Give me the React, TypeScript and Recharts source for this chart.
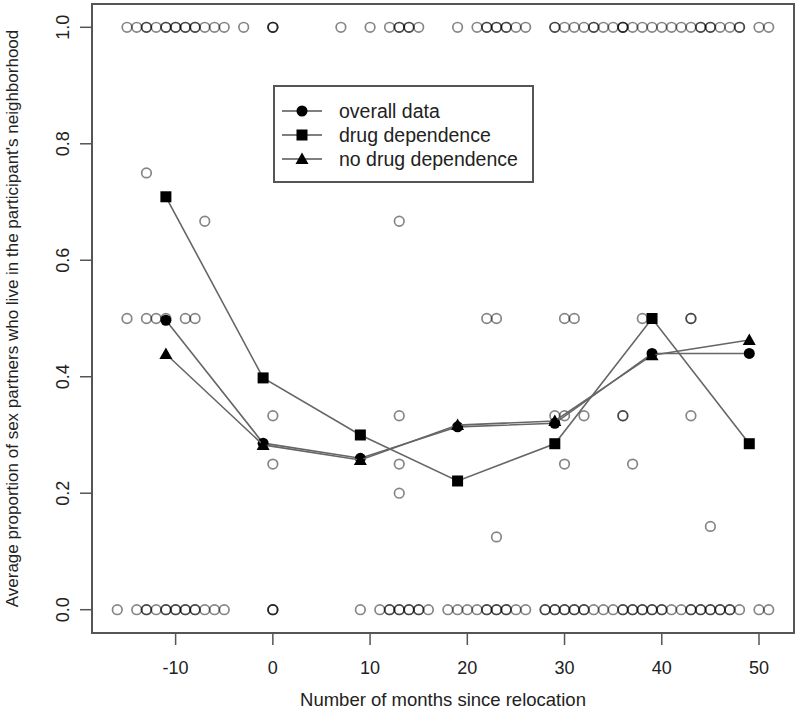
import {
  Legend,
  ReferenceArea,
  Scatter,
  ScatterChart,
  XAxis,
  YAxis,
} from "recharts";

// months where group means were computed
const months = [-11, -1, 9, 19, 29, 39, 49];
const overall = [0.497, 0.286, 0.26, 0.314, 0.32, 0.44, 0.44];
const drugDep = [0.709, 0.398, 0.3, 0.221, 0.285, 0.5, 0.285];
const noDrugDep = [0.439, 0.283, 0.257, 0.317, 0.324, 0.437, 0.463];

// individual observations at 1.0 (month, count)
const onesX = [-15, -14, -13, -12, -11, -10, -9, -8, -7, -6, -5, -3, 0, 7, 10, 12, 13, 14, 15, 19, 21, 22, 23, 24, 25, 26, 29, 30, 31, 32, 33, 34, 35, 36, 37, 38, 39, 40, 41, 42, 43, 44, 45, 46, 47, 48, 50, 51];
const onesN = [1, 1, 2, 1, 2, 2, 2, 2, 1, 1, 1, 1, 3, 1, 1, 1, 2, 2, 1, 1, 1, 2, 2, 2, 1, 1, 2, 1, 1, 1, 2, 1, 1, 3, 1, 1, 1, 1, 1, 1, 1, 2, 2, 1, 1, 2, 1, 1];

// individual observations at 0.0 (month, count)
const zerosX = [-16, -14, -13, -12, -11, -10, -9, -8, -7, -6, -5, 0, 9, 11, 12, 13, 14, 15, 16, 18, 19, 20, 21, 22, 23, 24, 25, 26, 28, 29, 30, 31, 32, 33, 34, 35, 36, 37, 38, 39, 40, 41, 42, 43, 44, 45, 46, 47, 48, 50, 51];
const zerosN = [1, 1, 2, 1, 2, 2, 2, 2, 1, 1, 1, 3, 1, 1, 2, 2, 2, 2, 1, 1, 1, 1, 1, 2, 2, 2, 1, 1, 2, 2, 2, 2, 2, 1, 1, 1, 2, 2, 2, 2, 2, 1, 1, 2, 2, 2, 2, 2, 1, 1, 1];

// other individual observations
const partX = [-13, -7, 13, -15, -13, -12, -11, -9, -8, 22, 23, 30, 31, 38, 43, 43, 0, 13, 29, 30, 32, 36, 36, 43, 0, 13, 30, 37, 13, 23, 45];
const partY = [0.75, 0.667, 0.667, 0.5, 0.5, 0.5, 0.5, 0.5, 0.5, 0.5, 0.5, 0.5, 0.5, 0.5, 0.5, 0.5, 0.333, 0.333, 0.333, 0.333, 0.333, 0.333, 0.333, 0.333, 0.25, 0.25, 0.25, 0.25, 0.2, 0.125, 0.143];

const yTicks = [0, 0.2, 0.4, 0.6, 0.8, 1.0];
const xTicks = [-10, 0, 10, 20, 30, 40, 50];

const legendItems = [
  { name: "overall data", marker: "circle" },
  { name: "drug dependence", marker: "square" },
  { name: "no drug dependence", marker: "triangle" },
];

const FONT = "'Liberation Sans', Arial, Helvetica, sans-serif";
const X_DOMAIN = [-18.6, 53.6];
const Y_DOMAIN = [-0.04, 1.04];

const expand = (xs: number[], ns: number[], y: number) =>
  xs.flatMap((x, i) => Array.from({ length: ns[i] }, () => ({ x, y })));

const observations = [
  ...expand(onesX, onesN, 1),
  ...expand(zerosX, zerosN, 0),
  ...partX.map((x, i) => ({ x, y: partY[i] })),
];

const toPoints = (vals: number[]) => months.map((m, i) => ({ x: m, y: vals[i] }));

const OpenCircle = (props: any) => (
  <circle
    cx={props.cx}
    cy={props.cy}
    r={4.8}
    fill="none"
    stroke="rgba(0,0,0,0.48)"
    strokeWidth={1.7}
  />
);

const Marker = ({ kind, cx, cy }: { kind: string; cx: number; cy: number }) => {
  if (kind === "square") {
    return <rect x={cx - 5.5} y={cy - 5.5} width={11} height={11} fill="#000" />;
  }
  if (kind === "triangle") {
    return (
      <polygon
        points={`${cx},${cy - 6.5} ${cx - 6.5},${cy + 5} ${cx + 6.5},${cy + 5}`}
        fill="#000"
      />
    );
  }
  return <circle cx={cx} cy={cy} r={5.5} fill="#000" />;
};

const shapeFor = (kind: string) => (props: any) =>
  <Marker kind={kind} cx={props.cx} cy={props.cy} />;

const YTick = (props: any) => {
  const { x, y, payload } = props;
  const tx = x - 1;
  return (
    <text
      x={tx}
      y={y}
      transform={`rotate(-90, ${tx}, ${y})`}
      textAnchor="middle"
      fontSize={18}
      fontFamily={FONT}
      fill="#222"
    >
      {Number(payload.value).toFixed(1)}
    </text>
  );
};

const renderLegend = () => (
  <div
    style={{
      width: 261,
      height: 98,
      boxSizing: "border-box",
      border: "2px solid #555",
      background: "#fff",
      paddingTop: 12,
      fontFamily: FONT,
      fontSize: 19.5,
      color: "#222",
    }}
  >
    {legendItems.map((item) => (
      <div
        key={item.name}
        style={{ display: "flex", alignItems: "center", height: 24 }}
      >
        <svg width={48} height={20} style={{ marginLeft: 5 }}>
          <line x1={2} y1={10} x2={42} y2={10} stroke="#555" strokeWidth={1.5} />
          <Marker kind={item.marker} cx={22} cy={10} />
        </svg>
        <span style={{ marginLeft: 11 }}>{item.name}</span>
      </div>
    ))}
  </div>
);

export default function App() {
  return (
    <div style={{ position: "fixed", left: 0, top: 0, background: "#fff" }}>
      <ScatterChart
        width={800}
        height={714}
        margin={{ top: 4, right: 6, bottom: 0, left: 0 }}
      >
        <XAxis
          type="number"
          dataKey="x"
          domain={X_DOMAIN}
          ticks={xTicks}
          allowDataOverflow
          axisLine={false}
          tickLine={{ stroke: "#555", strokeWidth: 1.5 }}
          tickSize={12}
          tickMargin={16}
          height={81}
          tick={{ fontSize: 18, fontFamily: FONT, fill: "#222" }}
          label={{
            value: "Number of months since relocation",
            position: "insideBottom",
            offset: 8,
            style: { fontSize: 18.5, fontFamily: FONT, fill: "#222" },
          }}
        />
        <YAxis
          type="number"
          dataKey="y"
          domain={Y_DOMAIN}
          ticks={yTicks}
          allowDataOverflow
          axisLine={false}
          tickLine={{ stroke: "#555", strokeWidth: 1.5 }}
          tickSize={12}
          tickMargin={10}
          width={92}
          tick={<YTick />}
          label={{
            value:
              "Average proportion of sex partners who live in the participant's neighborhood",
            angle: -90,
            position: "insideLeft",
            offset: 12,
            style: {
              fontSize: 17,
              fontFamily: FONT,
              fill: "#222",
              textAnchor: "middle",
            },
          }}
        />
        <ReferenceArea
          x1={X_DOMAIN[0]}
          x2={X_DOMAIN[1]}
          y1={Y_DOMAIN[0]}
          y2={Y_DOMAIN[1]}
          fill="none"
          stroke="#555"
          strokeWidth={2}
          ifOverflow="visible"
        />
        <Scatter
          data={observations}
          shape={OpenCircle}
          isAnimationActive={false}
        />
        <Scatter
          data={toPoints(overall)}
          line={{ stroke: "#666", strokeWidth: 1.6 }}
          lineType="joint"
          shape={shapeFor("circle")}
          isAnimationActive={false}
        />
        <Scatter
          data={toPoints(drugDep)}
          line={{ stroke: "#666", strokeWidth: 1.6 }}
          lineType="joint"
          shape={shapeFor("square")}
          isAnimationActive={false}
        />
        <Scatter
          data={toPoints(noDrugDep)}
          line={{ stroke: "#666", strokeWidth: 1.6 }}
          lineType="joint"
          shape={shapeFor("triangle")}
          isAnimationActive={false}
        />
        <Legend
          layout="vertical"
          align="center"
          verticalAlign="middle"
          content={renderLegend}
          wrapperStyle={{ left: 273, top: 85, width: 261, height: 98 }}
        />
      </ScatterChart>
    </div>
  );
}
